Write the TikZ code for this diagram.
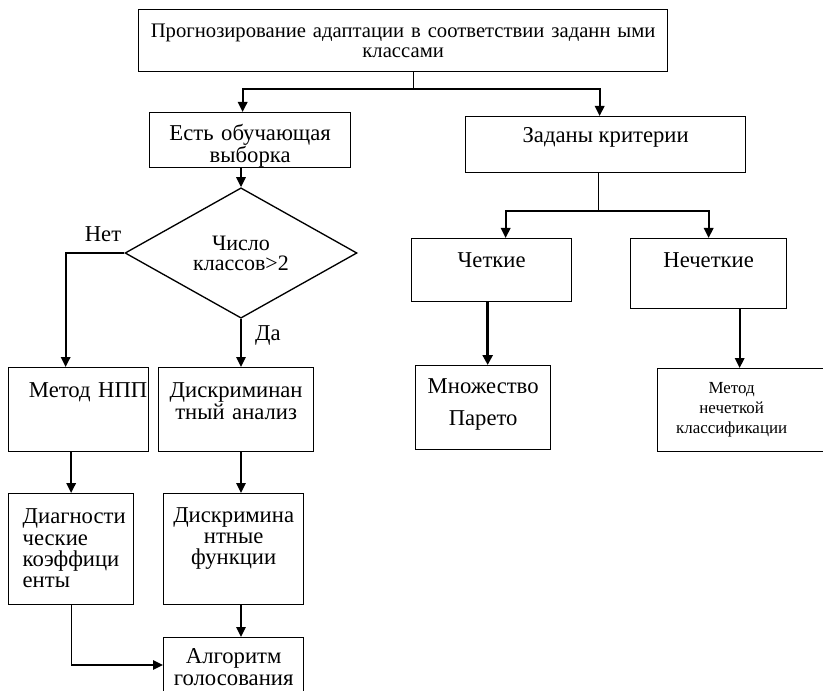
\documentclass[tikz,border=0pt]{standalone}
\usepackage{fontspec}
\setmainfont{Liberation Serif}
\usetikzlibrary{shapes.geometric,arrows.meta,calc}

\begin{document}
\begin{tikzpicture}[x=0.75pt,y=-0.75pt,
  box/.style={draw, line width=1pt, rectangle, anchor=north west, inner sep=0pt, align=center,
    text height=11.3pt, font=\fontsize{17}{16}\selectfont},
  choice/.style={draw, line width=1pt, diamond, inner sep=0pt, align=center,
    font=\fontsize{16.5}{15}\selectfont},
  arrow/.style={line width=1.5pt, -{Triangle[width=7pt,length=7.5pt]}},
  bigarrow/.style={line width=2.6pt, -{Triangle[width=7.5pt,length=7.5pt]}},
  link/.style={line width=0.7pt},
  answer/.style={anchor=base, font=\fontsize{17}{16}\selectfont}]
\clip (0,0) rectangle (823,691);

\node[box, minimum width=396.75pt, minimum height=46.5pt, text width=390pt,
  font=\fontsize{15.5}{15}\selectfont, text height=10.3pt, text depth=15.2pt] (1) at (138,9)
  {Прогнозирование адаптации в соответствии заданн ыми\\классами};
\node[box, minimum width=150.75pt, minimum height=41.25pt, text width=140pt, text depth=10.45pt] (2) at (149,112)
  {Есть обучающая\\выборка};
\node[box, minimum width=210pt, minimum height=42pt, text depth=14.2pt] (3) at (465,116)
  {Заданы критерии};
\node[choice, minimum width=174pt, minimum height=93.75pt] (4) at (241,253)
  {Число\\классов>2};
\node[box, minimum width=105pt, minimum height=63pt, text width=103pt, align=right,
  text depth=29.2pt] (5) at (8,367) {Метод НПП};
\node[box, minimum width=116.25pt, minimum height=63pt, text width=112pt,
  text depth=29.2pt] (6) at (158,367) {Дискриминан\\тный анализ};
\node[box, minimum width=93.75pt, minimum height=83.25pt, text width=72.75pt, align=left,
  text depth=49.5pt] (7) at (8,493) {Диагности\\ческие\\коэффици\\енты};
\node[box, minimum width=105pt, minimum height=83.25pt, text width=100pt,
  text depth=51.75pt] (8) at (163,493) {Дискримина\\нтные\\функции};
\node[box, minimum width=105pt, inner ysep=8.25pt, text width=100pt,
  text depth=40pt] (9) at (163,637) {Алгоритм\\голосования};
\node[box, minimum width=120pt, minimum height=47.25pt, text depth=14.95pt] (10) at (411,238)
  {Четкие};
\node[box, minimum width=117pt, minimum height=52.5pt, text depth=20.2pt] (11) at (630,238)
  {Нечеткие};
\node[box, minimum width=101.25pt, minimum height=63pt, text width=98pt,
  text depth=32.2pt] (12) at (415,365) {Множество\\[8pt]Парето};
\node[box, minimum width=129.75pt, minimum height=62.25pt, text width=129.75pt, align=left,
  text height=8.4pt, text depth=32.85pt] (13) at (657,368)
  {\parbox[t]{111pt}{\centering\fontsize{12.7}{15}\selectfont Метод\\нечеткой\\классификации}};

% labels
\node[answer] (no) at (103,242) {Нет};
\node[answer] (yes) at (268,340) {Да};

% top split
\coordinate (j1) at ($(1.south)+(10.5,17)$);
\draw[link] (1.south -| j1) -- (j1);
\draw[arrow] (j1) -| ($(2.north)+(-7.5,0)$);
\draw[arrow] (j1) -| ($(3.north)+(-6,0)$);

% left branch
\draw[arrow] (2.south -| 4.north) -- (4.north);
\draw[arrow] (4.west) -| ($(5.north)+(-13,0)$);
\draw[arrow] (4.south) -- (4.south |- 6.north);
\draw[arrow] (5.south -| 7.north) -- (7.north);
\draw[arrow] (6.south -| 4.south) -- (8.north -| 4.south);
\draw[arrow] (8.south -| 4.south) -- (9.north -| 4.south);
\coordinate (j2) at ($(9.north west)+(0,28)$);
\draw[link] (7.south) -- (7.south |- j2);
\draw[arrow] (7.south |- j2) -- (j2);

% right branch
\coordinate (j3) at ($(3.south)+(-7,38)$);
\draw[link] (3.south -| j3) -- (j3);
\draw[arrow] (j3) -| ($(10.north)+(14,0)$);
\draw[arrow] (j3) -| (11.north);
\draw[bigarrow] ($(10.south)+(-4,0)$) -- ($(12.north)+(4.5,0)$);
\draw[arrow] ($(11.south)+(31,0)$) -- ($(13.north)+(-4.5,0)$);
\end{tikzpicture}
\end{document}
